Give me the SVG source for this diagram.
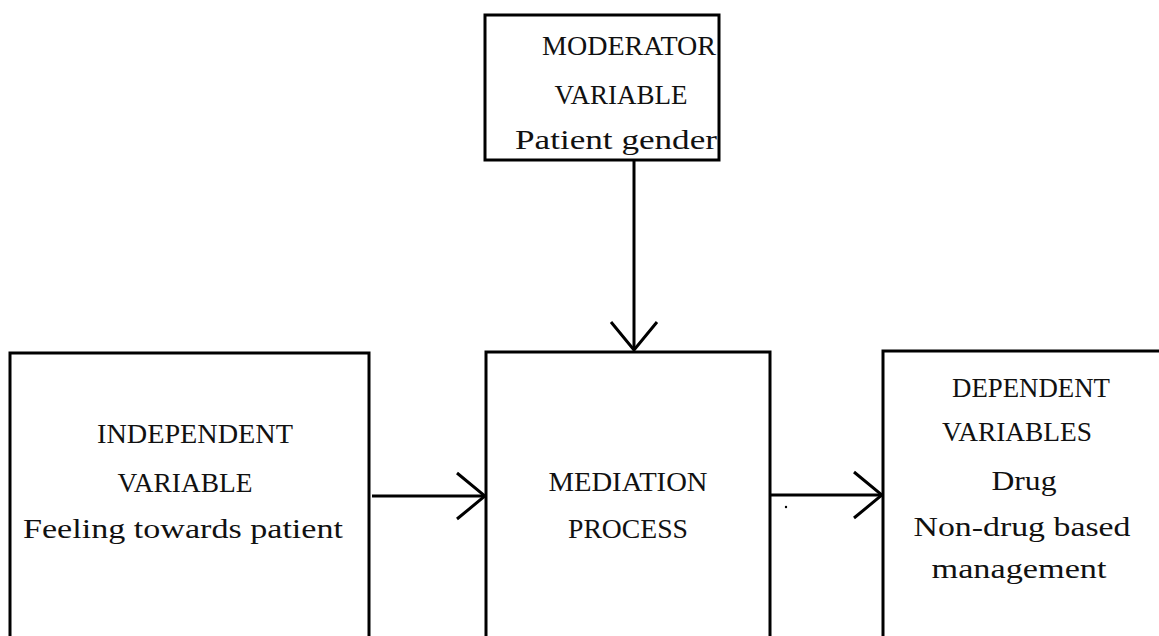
<svg xmlns="http://www.w3.org/2000/svg" width="1159" height="636" viewBox="0 0 1159 636">
<style>
.box{fill:none;stroke:#000;stroke-width:3}
.t{font-family:"Liberation Serif",serif;font-size:27px;fill:#111;text-anchor:middle}
.c{fill:none;stroke:#000;stroke-width:3}
</style>
<defs>
<marker id="arr" viewBox="0 0 30 50" refX="29" refY="25" markerWidth="30" markerHeight="50" markerUnits="userSpaceOnUse" orient="auto">
<path d="M1,2 L29,25 L1,48" fill="none" stroke="#000" stroke-width="3"/>
</marker>
</defs>
<rect width="1159" height="636" fill="#fff"/>
<g id="moderator">
<rect class="box" x="485" y="15" width="234" height="145"/>
<text class="t" x="629" y="55" textLength="174" lengthAdjust="spacingAndGlyphs">MODERATOR</text>
<text class="t" x="621" y="104" textLength="133" lengthAdjust="spacingAndGlyphs">VARIABLE</text>
<text class="t" x="616" y="149" textLength="202" lengthAdjust="spacingAndGlyphs">Patient gender</text>
</g>
<g id="independent">
<rect class="box" x="10" y="353" width="359" height="300"/>
<text class="t" x="195" y="443" textLength="196" lengthAdjust="spacingAndGlyphs">INDEPENDENT</text>
<text class="t" x="185" y="492" textLength="135" lengthAdjust="spacingAndGlyphs">VARIABLE</text>
<text class="t" x="183" y="538" textLength="320" lengthAdjust="spacingAndGlyphs">Feeling towards patient</text>
</g>
<g id="mediation">
<rect class="box" x="486" y="352" width="284" height="300"/>
<text class="t" x="628" y="491" textLength="159" lengthAdjust="spacingAndGlyphs">MEDIATION</text>
<text class="t" x="628" y="538" textLength="120" lengthAdjust="spacingAndGlyphs">PROCESS</text>
</g>
<g id="dependent">
<rect class="box" x="883" y="351" width="300" height="300"/>
<text class="t" x="1031" y="397" textLength="158" lengthAdjust="spacingAndGlyphs">DEPENDENT</text>
<text class="t" x="1017" y="441" textLength="150" lengthAdjust="spacingAndGlyphs">VARIABLES</text>
<text class="t" x="1024" y="490" textLength="65" lengthAdjust="spacingAndGlyphs">Drug</text>
<text class="t" x="1022" y="536" textLength="217" lengthAdjust="spacingAndGlyphs">Non-drug based</text>
<text class="t" x="1019" y="578" textLength="175" lengthAdjust="spacingAndGlyphs">management</text>
</g>
<g id="connectors">
<line class="c" x1="634" y1="160" x2="634" y2="350" marker-end="url(#arr)"/>
<line class="c" x1="372" y1="496" x2="485" y2="496" marker-end="url(#arr)"/>
<line class="c" x1="771" y1="495" x2="882" y2="495" marker-end="url(#arr)"/>
</g>
<circle cx="786" cy="507" r="1.2" fill="#000"/>
</svg>
